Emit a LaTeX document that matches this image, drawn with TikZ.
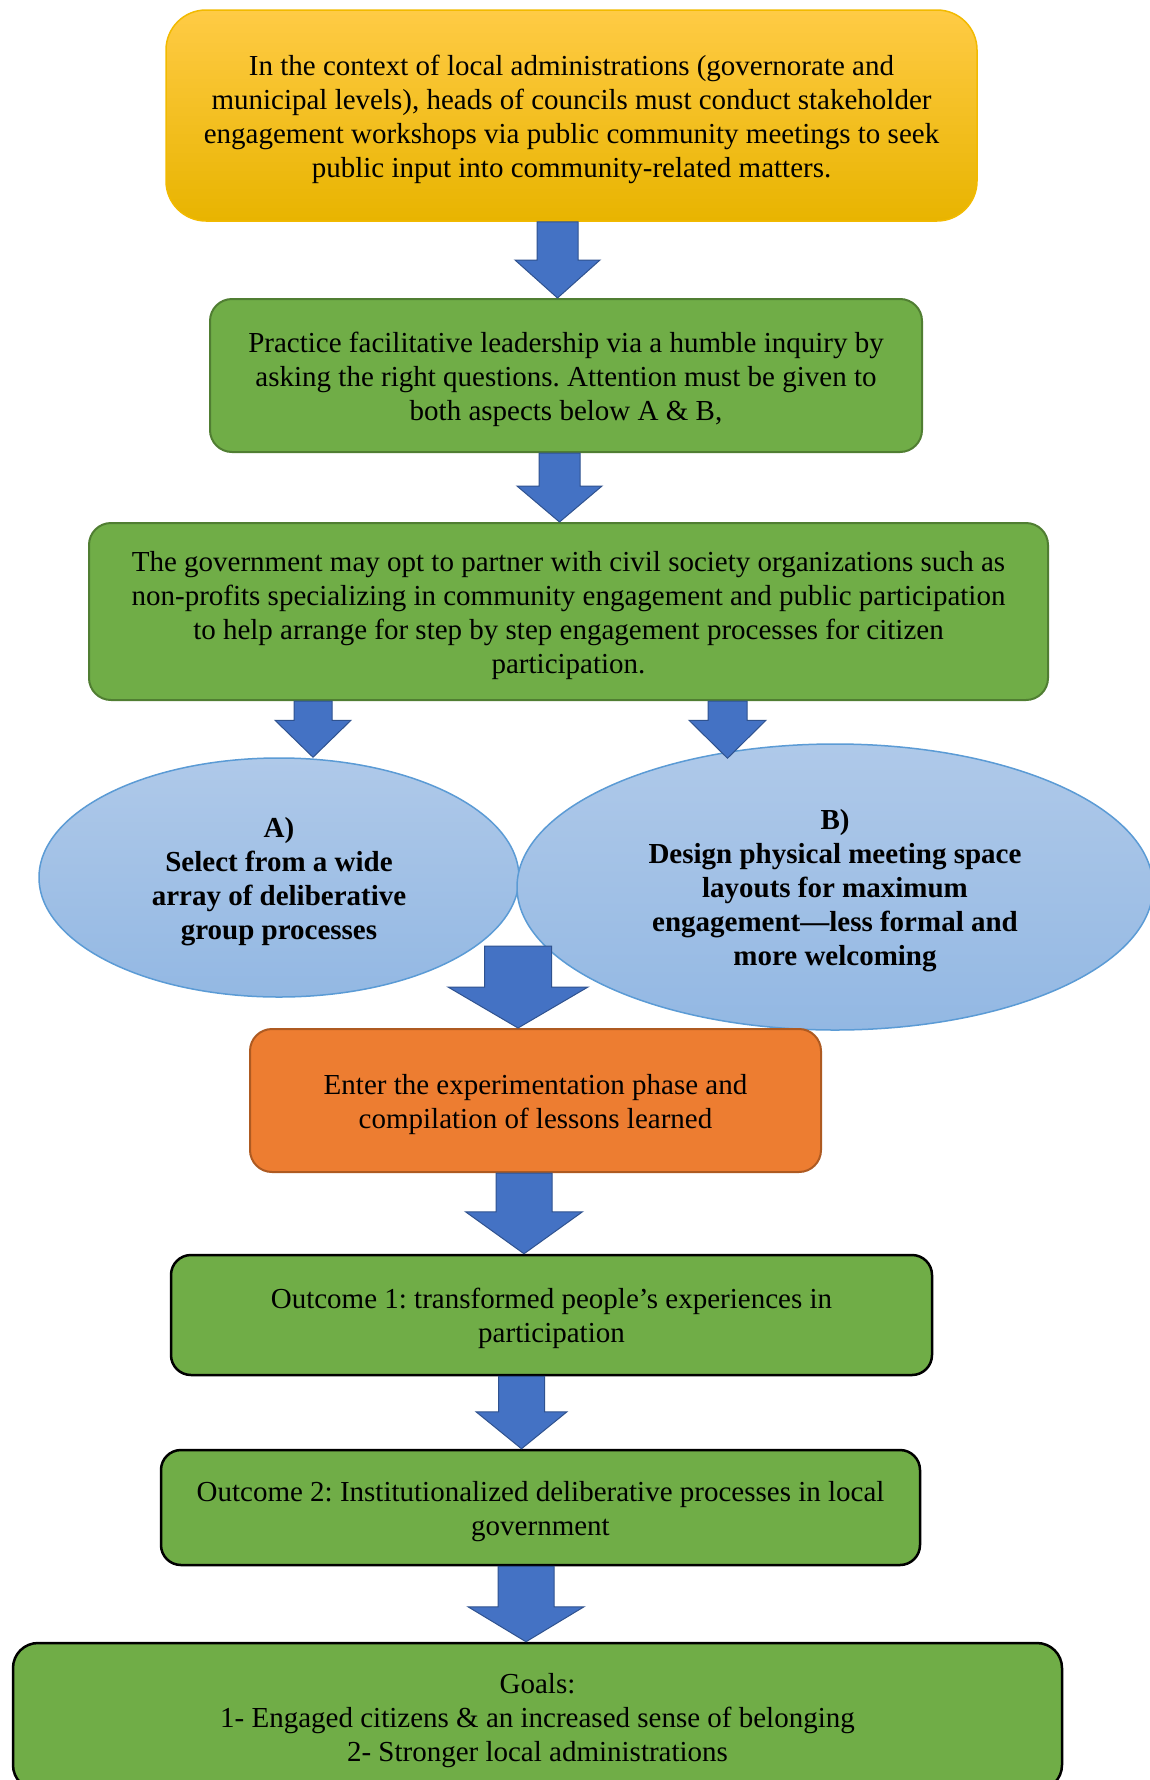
\documentclass[tikz,border=0pt]{standalone}
\usepackage{fontspec}
\setmainfont{Liberation Serif}
\usetikzlibrary{shapes.geometric,calc}

\definecolor{goldtop}{HTML}{FFCB45}
\definecolor{goldmid}{HTML}{FFC000}
\definecolor{goldbot}{HTML}{E8B400}
\definecolor{goldedge}{HTML}{F2BA00}
\definecolor{leaf}{HTML}{70AD47}
\definecolor{leafedge}{HTML}{507E32}
\definecolor{tangerine}{HTML}{ED7D31}
\definecolor{tangerineedge}{HTML}{AE5A21}
\definecolor{skytop}{HTML}{AFC9E9}
\definecolor{skybot}{HTML}{93B8E3}
\definecolor{skyedge}{HTML}{5B9BD5}
\definecolor{arrowblue}{HTML}{4472C4}
\definecolor{arrowedge}{HTML}{2F528F}

% block arrow: start point, tip point, shaft half width, head half width, head length
\newcommand\flowarrow[5]{%
  \filldraw[blockarrow] let \p1=#1, \p2=#2 in
    (\x1-#3pt,\y1) -- (\x1+#3pt,\y1) -- (\x1+#3pt,\y2+#5pt) -- (\x1+#4pt,\y2+#5pt)
    -- (\x1,\y2) -- (\x1-#4pt,\y2+#5pt) -- (\x1-#3pt,\y2+#5pt) -- cycle;}
% extra room above the first line, so the text block sits a little lower
\newcommand\lift{\rule{0pt}{27.5pt}}

\frenchspacing
\begin{document}
\begin{tikzpicture}[x=1pt,y=-1pt,
  txt/.style={font=\fontsize{29}{34}\selectfont},
  box/.style={rectangle, rounded corners=22pt, inner sep=0pt, align=center, txt},
  greenbox/.style={box, fill=leaf, draw=leafedge, line width=2pt},
  outbox/.style={box, fill=leaf, draw=black, line width=2.5pt},
  choice/.style={ellipse, inner sep=0pt, align=center,
    font=\fontsize{29}{34}\selectfont\bfseries,
    draw=skyedge, line width=1.5pt, top color=skytop, bottom color=skybot},
  blockarrow/.style={fill=arrowblue, draw=arrowedge, line width=1pt, line join=miter}]

\fill[white] (0,0) rectangle (1149,1780);
\useasboundingbox (0,0) rectangle (1149,1780);

% boxes
\node[box, rounded corners=40pt, minimum width=811pt, minimum height=211pt,
      draw=goldedge, line width=1.5pt,
      top color=goldtop, middle color=goldmid, bottom color=goldbot]
  (top) at (571.5,115.5)
  {\lift In the context of local administrations (governorate and\\
   municipal levels), heads of councils must conduct stakeholder\\
   engagement workshops via public community meetings to seek\\
   public input into community-related matters.};

\node[greenbox, minimum width=712pt, minimum height=153pt] (lead) at (566,375.5)
  {\lift Practice facilitative leadership via a humble inquiry by\\
   asking the right questions. Attention must be given to\\
   both aspects below A \& B,};

\node[greenbox, minimum width=959pt, minimum height=177pt] (partner) at (568.5,611.5)
  {\lift The government may opt to partner with civil society organizations such as\\
   non-profits specializing in community engagement and public participation\\
   to help arrange for step by step engagement processes for citizen\\
   participation.};

% the two aspects
\node[choice, minimum width=480pt, minimum height=239pt] (optA) at (279,877.5)
  {\lift A)\\ Select from a wide\\ array of deliberative\\ group processes};
\node[choice, minimum width=636pt, minimum height=286pt] (optB) at (835,887)
  {\lift B)\\ Design physical meeting space\\ layouts for maximum\\
   engagement—less formal and\\ more welcoming};

\node[box, minimum width=571pt, minimum height=143pt, fill=tangerine,
      draw=tangerineedge, line width=2pt] (exper) at (535.5,1100.5)
  {\lift Enter the experimentation phase and\\ compilation of lessons learned};

\node[outbox, rounded corners=20pt, minimum width=761pt, minimum height=120pt] (out1) at (551.5,1315)
  {\lift Outcome 1: transformed people’s experiences in\\ participation};

\node[outbox, rounded corners=20pt, minimum width=759pt, minimum height=115pt] (out2) at (540.5,1507.5)
  {\lift Outcome 2: Institutionalized deliberative processes in local\\ government};

\node[outbox, rounded corners=25pt, minimum width=1049pt, minimum height=147pt] (goals) at (537.5,1716.5)
  {\lift Goals:\\ 1- Engaged citizens \& an increased sense of belonging\\
   2- Stronger local administrations};

% connectors
\coordinate (merge) at (518,946);
\flowarrow{($(top.south)+(-14,0)$)}{(lead.north)}{20.5}{42.5}{38}
\flowarrow{($(lead.south)+(-6.5,0)$)}{(partner.north)}{20.5}{42.5}{36}
\flowarrow{($(partner.south)+(-255.5,0)$)}{(optA.north)}{19}{38}{37}
\flowarrow{($(partner.south)+(159,0)$)}{($(optB.north)+(0,15)$)}{19.5}{38.5}{38}
\flowarrow{(merge)}{(exper.north)}{33.5}{70}{41}
\flowarrow{($(exper.south)+(-11.5,0)$)}{(out1.north)}{28}{58.5}{42}
\flowarrow{($(out1.south)+(-30,0)$)}{(out2.north)}{23}{45.5}{37}
\flowarrow{($(out2.south)+(-14.5,0)$)}{(goals.north)}{28}{58}{35}

\end{tikzpicture}
\end{document}
